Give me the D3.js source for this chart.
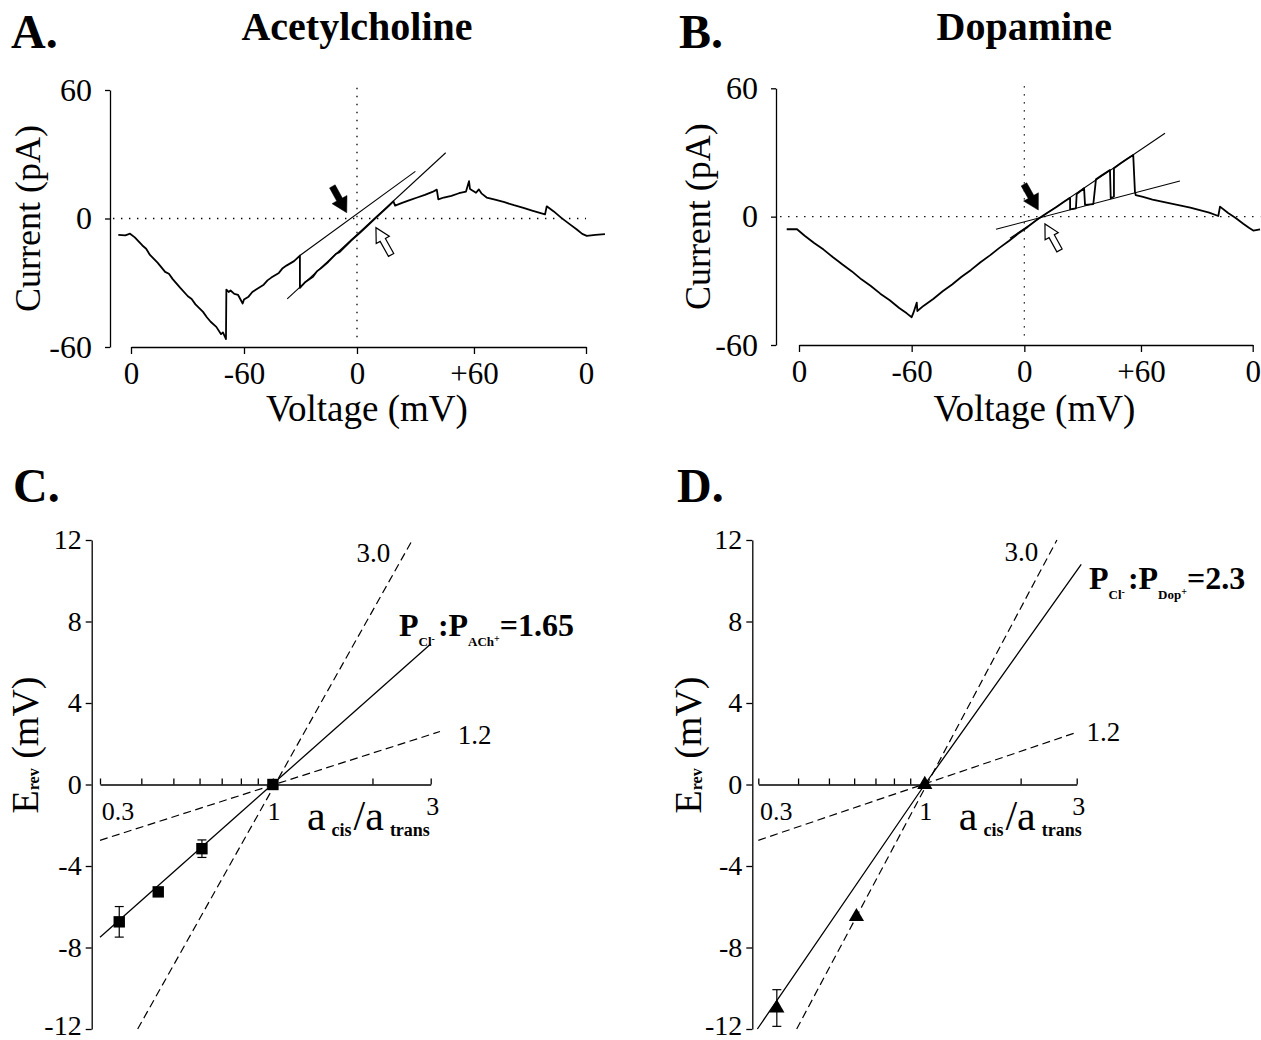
<!DOCTYPE html>
<html><head><meta charset="utf-8">
<script src="https://cdn.jsdelivr.net/npm/d3@7"></script>
<style>
body{margin:0;background:#fff;}
svg{display:block;}
</style></head><body>
<svg id="chart" width="1261" height="1040"></svg>
<script>
// ---------------- DATA ----------------
// Panels A/B: sweep position (arbitrary units along the voltage ramp) vs current (pA)
const voltTickPos = [0, 59.6, 119.2, 180.9, 240];
const voltTickLabels = ["0", "-60", "0", "+60", "0"];
const currentTicks = [-60, 0, 60];

const traceA = [
[-6.7,-7.6],[-3,-7.9],[-0.5,-7.1],[2,-8.8],[6,-12.6],[8,-14.1],[10,-17.0],[14,-20.6],[18,-24.9],[20,-25.8],[22,-28.3],[26,-32.4],[30,-36.3],[32,-37.6],[34,-40.1],[38,-43.6],[40,-46.1],[42,-48.2],[45,-50.6],[47.5,-54.0],[48.5,-53.2],[50.1,-56.3],
[50.3,-33.2],[51.5,-34.3],[52.5,-33.6],[54.5,-35.2],[56.5,-35.7],[58.9,-39.7],[59.6,-37.8],
[62,-36.5],[64,-34.3],[66,-33.2],[70,-30.9],[72,-28.9],[74,-27.6],[78,-25.4],[80,-23.2],[82,-22.0],[86,-19.9],[89.1,-17.3],
[89.1,-32.4],[92,-29.6],[96,-27.2],[98,-24.7],[100,-23.4],[104,-20.3],[108,-16.6],[110,-15.7],[112,-13.9],[116,-10.4],[120,-7.3],[124,-4.0],[128,-0.6],[132,2.6],[136,5.9],[138.4,8.0],
[139.3,6.0],[143,7.3],[147,8.6],[151,9.8],[155,11.0],[159,12.4],[161.3,13.5],
[162.1,8.9],[165,9.8],[169,10.6],[173,11.8],[176.7,12.6],[178.3,17.4],[178.8,13.8],[182,12.0],[183.5,13.6],[185,11.6],[187.6,9.8],
[192,8.8],[197,7.6],[202,6.2],[207,5.0],[212,3.6],[218.4,1.9],
[219.3,5.7],[223,3.3],[227,0.3],[231,-2.4],[235,-5.0],[238,-7.2],[240.4,-8.1],[245,-7.6],[250,-7.3]
];
const fitA1 = [[89.1,-17.3],[150.0,22.0]];
const fitA2 = [[82.4,-37.5],[166.0,30.7]];

const traceB = [
[-6.5,-5.9],[-1.2,-5.8],[3,-8.9],[8,-12.3],[13,-15.4],[18,-19.0],[23,-22.4],[28,-25.6],[33,-29.3],[38,-32.4],[43,-36.0],[48,-39.1],[53,-42.7],[57,-45.2],[59.6,-47.0],[60.5,-45.0],[62.3,-40.2],[62.6,-44.1],
[66,-41.6],[71,-38.5],[76,-34.9],[81,-31.7],[86,-28.1],[91,-24.9],[96,-21.3],[101,-18.1],[106,-14.6],[111,-11.4],[116,-7.9],[121,-4.8],[126,-1.3],[131,1.6],[136,4.4],[140,6.8],[143.4,8.8],
[143.4,3.4],[146.5,3.9],[146.9,10.6],[150.8,13.3],[151.3,5.5],[155.7,5.9],[157.1,17.5],[160,19.2],[164.5,21.8],[164.9,8.6],[166.6,9.4],[166.6,22.6],[170,24.8],[173.5,26.9],[176.8,28.8],[177.7,11.7],[178.1,10.1],
[182,9.2],[187,8.0],[192,7.0],[197,6.1],[202,5.2],[207,4.2],[212,3.0],[217,1.9],[221.8,0.3],[222.7,4.7],[227,1.7],[231,-0.6],[235,-3.3],[238,-5.2],[240.3,-6.5],[243.9,-5.9]
];
const fitB1 = [[111.6,-10.1],[193.6,39.0]];
const fitB2 = [[104.2,-5.9],[201.5,16.7]];

// Panels C/D: activity ratio vs reversal potential (mV)
const ratioTicks = [0.3,0.4,0.5,0.6,0.7,0.8,0.9,1,2,3];
const ratioLabels = [0.3, 1, 3];
const erevTicks = [-12,-8,-4,0,4,8,12];

const achRatio = [0.343, 0.45, 0.61, 1];
const achErev  = [-6.74, -5.27, -3.15, 0];
const achErr   = [0.75, 0, 0.43, 0];
const achFit   = [[0.3,-7.5],[3,6.9]];
const theory30C = [[0.39,-12],[2.64,12]];
const theory12C = [[0.3,-2.74],[3.2,2.6]];

const dopRatio = [0.343, 0.61, 1];
const dopErev  = [-10.97, -6.49, 0];
const dopErr   = [0.9, 0, 0];
const dopFit   = [[0.298,-12],[1,0],[3.1,10.8]];
const theory30D = [[0.396,-12],[2.6,12]];
const theory12D = [[0.3,-2.74],[3.0,2.56]];

// ---------------- DRAWING ----------------
const FONT = '"Liberation Serif","Times New Roman",serif';
const svg = d3.select("#chart").attr("font-family", FONT);

function arrow(g, t, h, filled) {
  const dx = h[0]-t[0], dy = h[1]-t[1];
  const L = Math.hypot(dx, dy), ux = dx/L, uy = dy/L, vx = -uy, vy = ux;
  const hl = filled ? 15 : 14, hw = filled ? 8.5 : 7.5, sw = filled ? 3.2 : 3.0;
  const P = (a,b) => [t[0]+ux*a+vx*b, t[1]+uy*a+vy*b];
  const pts = [P(0,-sw),P(L-hl,-sw),P(L-hl,-hw),P(L,0),P(L-hl,hw),P(L-hl,sw),P(0,sw)];
  g.append("path").attr("d", "M"+pts.map(p=>p.join(",")).join("L")+"Z")
    .attr("fill", filled ? "#000" : "#fff").attr("stroke","#000").attr("stroke-width", filled?0.5:1.2)
    .attr("stroke-linejoin","miter");
}

function styleAxis(sel, size) {
  sel.attr("font-family", FONT).attr("font-size", size);
  sel.selectAll("path.domain").attr("stroke","#000").attr("stroke-width",1.3);
  sel.selectAll(".tick line").attr("stroke","#000").attr("stroke-width",1.3);
  sel.selectAll(".tick text").attr("fill","#000");
}

function ivPanel(o) {
  const x = d3.scaleLinear().domain([0,240]).range(o.xr);
  const y = d3.scaleLinear().domain([-60,60]).range(o.yr);
  const g = svg.append("g");
  // dotted zero lines
  g.append("line").attr("x1",x(o.hz[0])).attr("x2",x(o.hz[1])).attr("y1",y(0)).attr("y2",y(0))
    .attr("stroke","#000").attr("stroke-width",1.3).attr("stroke-dasharray","1.4,6.6");
  g.append("line").attr("x1",x(voltTickPos[2])).attr("x2",x(voltTickPos[2])).attr("y1",y(61)).attr("y2",y(-56.5))
    .attr("stroke","#000").attr("stroke-width",1.3).attr("stroke-dasharray","1.4,6.6");
  // axes
  const ya = g.append("g").attr("transform",`translate(${o.yAxisX},0)`)
    .call(d3.axisLeft(y).tickValues(currentTicks).tickSize(5).tickPadding(13).tickSizeOuter(0).tickFormat(d=>String(d)));
  styleAxis(ya, 32);
  const xa = g.append("g").attr("transform",`translate(0,${y(-60)})`)
    .call(d3.axisBottom(x).tickValues(voltTickPos).tickSize(7).tickPadding(8).tickSizeOuter(0).tickFormat((d,i)=>voltTickLabels[i]));
  styleAxis(xa, 31);
  // trace and fits
  const line = d3.line().x(d=>x(d[0])).y(d=>y(d[1]));
  g.append("path").datum(o.trace).attr("d",line).attr("fill","none").attr("stroke","#000").attr("stroke-width",1.8).attr("stroke-linejoin","round");
  [o.fit1,o.fit2].forEach(f=>g.append("path").datum(f).attr("d",line).attr("fill","none").attr("stroke","#000").attr("stroke-width",1.1));
  // arrows
  arrow(g, [x(o.solid[0][0]),y(o.solid[0][1])], [x(o.solid[1][0]),y(o.solid[1][1])], true);
  arrow(g, [x(o.open[0][0]),y(o.open[0][1])], [x(o.open[1][0]),y(o.open[1][1])], false);
  // labels
  g.append("text").attr("transform",`translate(${o.ylabX},${y(0)}) rotate(-90)`).attr("text-anchor","middle")
    .attr("dominant-baseline","central").attr("font-size",36).text("Current (pA)");
  g.append("text").attr("x",x(voltTickPos[2])+10).attr("y",421).attr("text-anchor","middle").attr("font-size",37).text("Voltage (mV)");
  g.append("text").attr("x",x(voltTickPos[2])).attr("y",40).attr("text-anchor","middle").attr("font-size",40).attr("font-weight","bold").text(o.title);
  g.append("text").attr("x",o.letterX).attr("y",48).attr("font-size",48).attr("font-weight","bold").text(o.letter);
}

ivPanel({xr:[131,586], yr:[347,90], yAxisX:110, hz:[-9.5,240], trace:traceA, fit1:fitA1, fit2:fitA2,
  solid:[[106.2,15.0],[113.8,2.7]], open:[[137.2,-17.0],[129.2,-4.3]], ylabX:28, title:"Acetylcholine", letter:"A.", letterX:11});
ivPanel({xr:[799,1252.7], yr:[345,88.3], yAxisX:776, hz:[-10,244], trace:traceB, fit1:fitB1, fit2:fitB2,
  solid:[[119.0,15.1],[126.6,3.1]], open:[[137.8,-15.8],[130.1,-3.4]], ylabX:698, title:"Dopamine", letter:"B.", letterX:679});

function permLabel(g, x0, y0, sub2, val) {
  const t = g.append("text").attr("x",x0).attr("y",y0).attr("font-weight","bold").attr("font-size",32);
  t.append("tspan").text("P");
  t.append("tspan").attr("font-size",13).attr("dy",10).text("Cl");
  t.append("tspan").attr("font-size",10).attr("dy",-4).text("-");
  t.append("tspan").attr("font-size",32).attr("dy",-6).attr("dx",3).text(":P");
  t.append("tspan").attr("font-size",13).attr("dy",10).text(sub2);
  t.append("tspan").attr("font-size",10).attr("dy",-4).text("+");
  t.append("tspan").attr("font-size",32).attr("dy",-6).text("=" + val);
}

function ratioPanel(o) {
  const x = d3.scaleLog().domain([0.3,3]).range(o.xr);
  const y = d3.scaleLinear().domain([-12,12]).range([1029,540]);
  const g = svg.append("g");
  const ya = g.append("g").attr("transform",`translate(${o.yAxisX},0)`)
    .call(d3.axisLeft(y).tickValues(erevTicks).tickSize(6).tickPadding(4).tickSizeOuter(0).tickFormat(d=>String(d)));
  styleAxis(ya, 28);
  ya.selectAll(".tick text").filter(d=>d===-12).attr("dy","0.2em");
  const xa = g.append("g").attr("transform",`translate(0,${y(0)})`)
    .call(d3.axisTop(x).tickValues(ratioTicks).tickSize(6).tickSizeOuter(0).tickFormat(""));
  styleAxis(xa, 24);
  // x tick labels below axis
  g.selectAll("text.rl").data(ratioLabels).join("text").attr("class","rl")
    .attr("x",(d,i)=>x(d)+(i===0?18:(i===1?1:2))).attr("y",(d,i)=>i===2?815:820).attr("text-anchor","middle")
    .attr("font-size",26).text(d=>String(d));
  // axis title a_cis/a_trans
  const at = g.append("text").attr("x",x(1)+34).attr("y",830).attr("font-size",42);
  at.append("tspan").text("a");
  at.append("tspan").attr("font-size",18).attr("font-weight","bold").attr("dx",6).attr("dy",6).text("cis");
  at.append("tspan").attr("dy",-6).attr("dx",2).text("/a");
  at.append("tspan").attr("font-size",18).attr("font-weight","bold").attr("dx",6).attr("dy",6).text("trans");
  // y label
  const yl = g.append("text").attr("transform",`translate(${o.ylabX},745) rotate(-90)`).attr("text-anchor","middle")
    .attr("dominant-baseline","central").attr("font-size",38);
  yl.append("tspan").text("E");
  yl.append("tspan").attr("font-size",16).attr("font-weight","bold").attr("dy",8).text("rev");
  yl.append("tspan").attr("dy",-8).text(" (mV)");
  // lines
  const line = d3.line().x(d=>x(d[0])).y(d=>y(d[1]));
  g.append("path").datum(o.t30).attr("d",line).attr("fill","none").attr("stroke","#000").attr("stroke-width",1.2).attr("stroke-dasharray","8,4.5");
  g.append("path").datum(o.t12).attr("d",line).attr("fill","none").attr("stroke","#000").attr("stroke-width",1.2).attr("stroke-dasharray","8,4.5");
  g.append("path").datum(o.fit).attr("d",line).attr("fill","none").attr("stroke","#000").attr("stroke-width",1.3);
  // error bars
  o.rx.forEach((r,i)=>{
    const e = o.err[i]; if (!e) return;
    const cx = x(r);
    g.append("line").attr("x1",cx).attr("x2",cx).attr("y1",y(o.ry[i]-e)).attr("y2",y(o.ry[i]+e)).attr("stroke","#000").attr("stroke-width",1.2);
    [o.ry[i]-e,o.ry[i]+e].forEach(v=>g.append("line").attr("x1",cx-4.5).attr("x2",cx+4.5).attr("y1",y(v)).attr("y2",y(v)).attr("stroke","#000").attr("stroke-width",1.2));
  });
  // markers
  const sym = d3.symbol().type(o.sym).size(o.symSize);
  g.selectAll("path.pt").data(o.rx).join("path").attr("class","pt")
    .attr("transform",(d,i)=>`translate(${x(d)},${y(o.ry[i])})`).attr("d",sym).attr("fill","#000");
  // annotations
  g.append("text").attr("x",x(o.lab30[0])).attr("y",y(o.lab30[1])).attr("font-size",27).text("3.0");
  g.append("text").attr("x",x(o.lab12[0])).attr("y",y(o.lab12[1])).attr("font-size",27).text("1.2");
  permLabel(g, o.perm[0], o.perm[1], o.permSub, o.permVal);
  g.append("text").attr("x",o.letterX).attr("y",502).attr("font-size",48).attr("font-weight","bold").text(o.letter);
}

ratioPanel({xr:[100,430.7], yAxisX:91.7, ylabX:25, rx:achRatio, ry:achErev, err:achErr, fit:achFit, t30:theory30C, t12:theory12C,
  sym:d3.symbolSquare, symSize:130, lab30:[1.79,10.9], lab12:[3.62,2.0], perm:[399,636], permSub:"ACh", permVal:"1.65", letter:"C.", letterX:13});
ratioPanel({xr:[758.3,1076.7], yAxisX:752.3, ylabX:688, rx:dopRatio, ry:dopErev, err:dopErr, fit:dopFit, t30:theory30D, t12:theory12D,
  sym:d3.symbolTriangle, symSize:100, lab30:[1.78,10.96], lab12:[3.22,2.15], perm:[1089,589], permSub:"Dop", permVal:"2.3", letter:"D.", letterX:677});
</script>
</body></html>
